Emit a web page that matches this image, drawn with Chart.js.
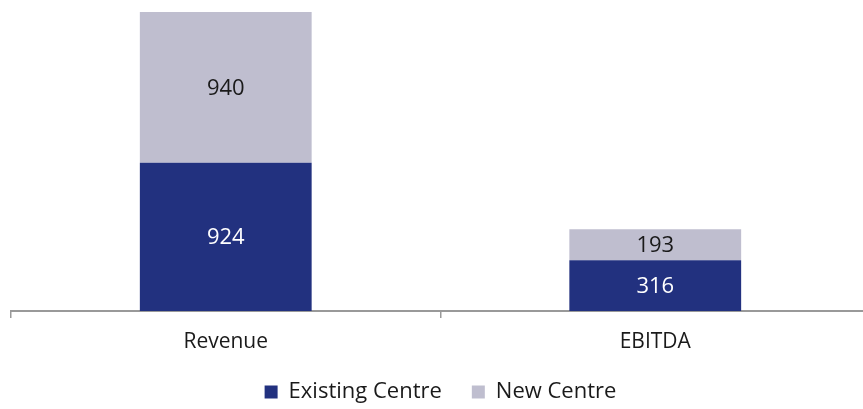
<!DOCTYPE html>
<html>
<head>
<meta charset="utf-8">
<script src="https://cdn.jsdelivr.net/npm/chart.js@4/dist/chart.umd.min.js"></script>
<style>
  html, body { margin: 0; padding: 0; background: #fff; overflow: hidden; }
  #wrap { width: 872px; height: 413px; }
</style>
</head>
<body>
<div id="wrap"><canvas id="centreChart" width="872" height="413"></canvas></div>
<script>
const categories = ['Revenue', 'EBITDA'];
const existingCentre = [924, 316];
const newCentre = [940, 193];

// writes the value in the middle of each bar segment
const barValues = {
    id: 'barValues',
    afterDatasetsDraw(chart) {
        const ctx = chart.ctx;
        ctx.save();
        ctx.font = '22px "Open Sans"';
        ctx.textAlign = 'center';
        ctx.textBaseline = 'middle';
        chart.data.datasets.forEach(function (ds, i) {
            chart.getDatasetMeta(i).data.forEach(function (bar, j) {
                const mid = (bar.y + bar.base) / 2;
                ctx.fillStyle = i === 0 ? '#ffffff' : '#1a1a1a';
                ctx.fillText(ds.data[j], bar.x, mid + 1);
            });
        });
        ctx.restore();
    }
};

const ctx = document.getElementById('centreChart').getContext('2d');
new Chart(ctx, {
    type: 'bar',
    data: {
        labels: categories,
        datasets: [{
            label: 'Existing Centre',
            data: existingCentre,
            backgroundColor: '#22317f',
            barPercentage: 1,
            categoryPercentage: 0.4
        }, {
            label: 'New Centre',
            data: newCentre,
            backgroundColor: '#bfbecf',
            barPercentage: 1,
            categoryPercentage: 0.4
        }]
    },
    options: {
        responsive: false,
        animation: false,
        layout: { padding: { top: 12, left: 11, right: 2, bottom: 0 } },
        plugins: {
            tooltip: { enabled: false },
            legend: {
                position: 'bottom',
                labels: {
                    boxWidth: 13,
                    boxHeight: 13,
                    padding: 30,
                    color: '#1a1a1a',
                    font: { family: 'Open Sans', size: 22 }
                }
            }
        },
        scales: {
            x: {
                stacked: true,
                afterFit: function (scale) { scale.height = 40; },
                grid: {
                    offset: true,
                    drawOnChartArea: false,
                    tickLength: 7,
                    color: '#999999',
                    lineWidth: 1.5
                },
                border: { color: '#999999', width: 2 },
                ticks: {
                    color: '#1a1a1a',
                    padding: 11,
                    font: { family: 'Open Sans', size: 21 }
                }
            },
            y: {
                stacked: true,
                display: false,
                min: 0,
                max: 1864
            }
        }
    },
    plugins: [barValues]
});
</script>
</body>
</html>
